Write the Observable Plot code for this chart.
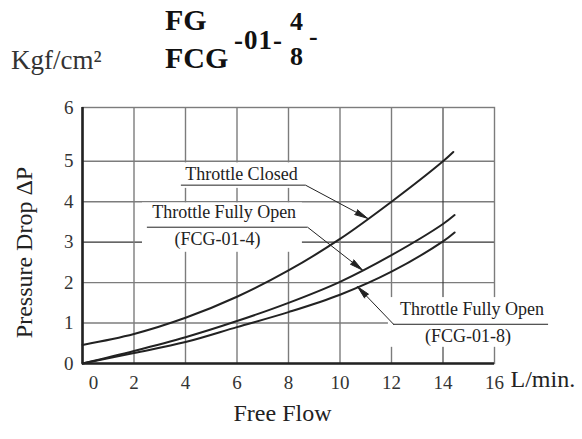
<!DOCTYPE html>
<html><head><meta charset="utf-8">
<script src="https://cdn.jsdelivr.net/npm/d3@7"></script>
<script src="https://cdn.jsdelivr.net/npm/@observablehq/plot@0.6"></script>
<style>
body{margin:0;background:#fff;font-family:'Liberation Serif',serif;color:#222}
#head{position:relative;height:90px;width:582px}
#head span{position:absolute;line-height:1;white-space:nowrap;color:#111}
.b{font-weight:bold;font-family:'Liberation Serif',serif}
</style></head><body>
<div id="head">
<span style="left:11px;top:47px;font-size:27px;color:#333">Kgf/cm²</span>
<span class="b" style="left:165px;top:5px;font-size:30px">FG</span>
<span class="b" style="left:165px;top:43px;font-size:30px">FCG</span>
<span class="b" style="left:234px;top:27px;font-size:27px;letter-spacing:1px">-01-</span>
<span class="b" style="left:290px;top:9px;font-size:26px">4</span>
<span class="b" style="left:290px;top:44px;font-size:26px">8</span>
<span class="b" style="left:309px;top:24px;font-size:26px">-</span>
</div>
<div id="chart"></div>
<script>
// Curves (Free Flow L/min -> Pressure Drop kgf/cm²)
const closedX = [0, 2, 4, 6, 8, 10, 12, 14, 14.4];
const closedY = [0.46, 0.73, 1.13, 1.65, 2.3, 3.08, 4.0, 5.0, 5.23];
const open4X = [0, 2, 4, 6, 8, 10, 12, 14, 14.45];
const open4Y = [0, 0.31, 0.65, 1.05, 1.5, 2.02, 2.68, 3.45, 3.67];
const open8X = [0, 2, 4, 6, 8, 10, 12, 14, 14.45];
const open8Y = [0, 0.26, 0.53, 0.9, 1.27, 1.7, 2.27, 3.02, 3.24];

// Ticks (the hand-drawn top gridline carries the "6" label)
const xTicks = [0, 2, 4, 6, 8, 10, 12, 14, 16];
const yTicks = [0, 1, 2, 3, 4, 5];
const yTopLabel = ["6"];
const yTop = 6.33;

// Annotations
const labelText = ["Throttle Closed", "Throttle Fully Open", "(FCG-01-4)", "Throttle Fully Open", "(FCG-01-8)"];
const labelX = [6.17, 5.5, 5.24, 15.13, 14.97];
const labelY = [4.68, 3.73, 3.07, 1.34, 0.68];
const boxX1 = [3.61, 2.33, 11.88];
const boxX2 = [8.66, 8.54, 18.17];
const boxY1 = [4.33, 2.75, 0.40];
const boxY2 = [4.96, 3.97, 1.63];
const underX1 = [3.84, 2.52, 12.08];
const underX2 = [8.66, 8.74, 18.1];
const underY = [4.41, 3.37, 0.97];
const bendX = [8.66, 8.74, 12.08];
const tipX = [11.07, 10.87, 10.68];
const tipY = [3.59, 2.31, 1.9];

const series = [
  ...closedX.map((x, i) => ({s: "closed", x, y: closedY[i]})),
  ...open4X.map((x, i) => ({s: "open4", x, y: open4Y[i]})),
  ...open8X.map((x, i) => ({s: "open8", x, y: open8Y[i]}))
];
const idx3 = [0, 1, 2];
const idx5 = [0, 1, 2, 3, 4];
const gray = "#7c7c7c";
const dark = "#222";

const chart = Plot.plot({
  width: 582,
  height: 349,
  marginLeft: 82,
  marginRight: 88,
  marginTop: 17,
  marginBottom: 76,
  style: {fontFamily: "'Liberation Serif', serif", fontSize: "19px", color: "#333", background: "white", overflow: "visible"},
  x: {domain: [0, 16]},
  y: {domain: [0, yTop]},
  marks: [
    Plot.ruleY([1, 2, 4, 5], {stroke: gray, strokeWidth: 1.4}),
    Plot.ruleY([3], {stroke: "#333", strokeWidth: 1.1}),
    Plot.ruleX([2, 4, 6, 8, 10, 12], {stroke: gray, strokeWidth: 1.4}),
    Plot.ruleX([14], {stroke: "#333", strokeWidth: 1.1}),
    Plot.frame({stroke: gray, strokeWidth: 1.4}),
    Plot.rect(idx3, {x1: i => boxX1[i], x2: i => boxX2[i], y1: i => boxY1[i], y2: i => boxY2[i], fill: "white"}),
    Plot.ruleX([0], {stroke: dark, strokeWidth: 2.6}),
    Plot.ruleY([0], {stroke: dark, strokeWidth: 2.6}),
    Plot.line(series, {x: "x", y: "y", z: "s", stroke: dark, strokeWidth: 2, curve: "catmull-rom"}),
    Plot.ruleY(idx3, {x1: i => underX1[i], x2: i => underX2[i], y: i => underY[i], stroke: dark, strokeWidth: 1}),
    Plot.arrow(idx3, {x1: i => bendX[i], y1: i => underY[i], x2: i => tipX[i], y2: i => tipY[i], stroke: dark, fill: dark, strokeWidth: 1, headLength: 20, headAngle: 24}),
    Plot.text(idx5, {x: i => labelX[i], y: i => labelY[i], text: i => labelText[i], fontSize: 18, fill: dark}),
    Plot.axisY(yTicks, {tickSize: 0, tickPadding: 9, fontSize: 19, label: null}),
    Plot.text(yTopLabel, {frameAnchor: "top-left", textAnchor: "end", lineAnchor: "middle", dx: -9, fontSize: 19}),
    Plot.axisX([xTicks[0]], {tickSize: 0, tickPadding: 12, dx: 11, fontSize: 19, label: null}),
    Plot.axisX(xTicks.slice(1), {tickSize: 0, tickPadding: 12, fontSize: 19, label: null}),
    Plot.text(["L/min."], {frameAnchor: "bottom-right", textAnchor: "start", dx: 16, dy: 23, fontSize: 24, fill: dark}),
    Plot.text(["Free Flow"], {frameAnchor: "bottom", textAnchor: "middle", dx: -6, dy: 57, fontSize: 24, fill: dark}),
    Plot.text(["Pressure Drop ΔP"], {frameAnchor: "left", textAnchor: "middle", lineAnchor: "middle", rotate: -90, dx: -58, dy: 17, fontSize: 24, fill: dark})
  ]
});
document.getElementById("chart").appendChild(chart);
</script>
</body></html>
